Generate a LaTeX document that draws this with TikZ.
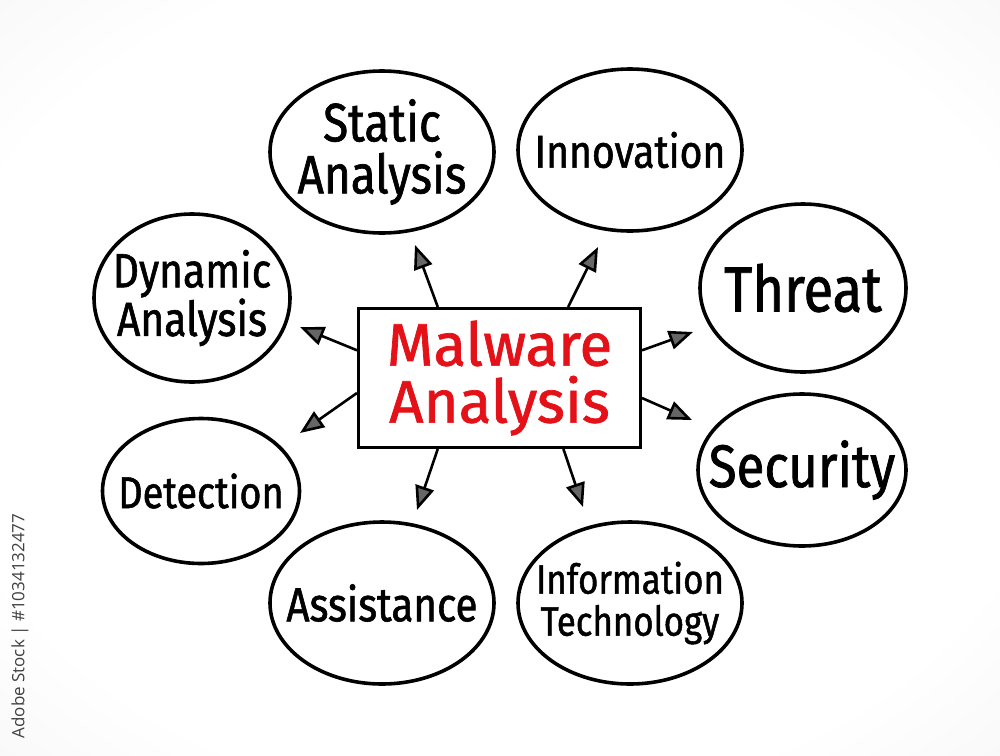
\documentclass[tikz,border=0pt]{standalone}
\usepackage{fontspec}
\usepackage{xcolor}
\usetikzlibrary{arrows.meta}
\usetikzlibrary{shapes.geometric}
\newfontfamily\hand{Fira Sans}[FakeStretch=0.85,FakeBold=1.2]
\newfontfamily\handwide{Fira Sans}[FakeBold=1.2]
\newfontfamily\stockfont{Open Sans}
\definecolor{markerred}{RGB}{228,18,24}
\definecolor{stockgray}{RGB}{64,64,64}
\pgfdeclareradialshading{paperglow}{\pgfpoint{0bp}{0bp}}{color(0bp)=(white); color(28bp)=(white); color(50bp)=(black!7); color(71bp)=(black!13)}

\tikzset{
  bubble/.style={draw, ellipse, line width=3.6pt, inner sep=-40pt, align=center},
  spoke/.style={line width=2.6pt, -{Triangle[length=24pt,width=19pt,fill=black!60]}}
}

\begin{document}
\begin{tikzpicture}[x=1pt,y=-1pt]
        \useasboundingbox (0,0) rectangle (1000,755);
        \shade[shading=paperglow] (0,0) rectangle (1000,755);

        \node[rotate=90, text=stockgray, font=\stockfont\fontsize{17}{17}\selectfont] (stockid) at (20,626) {Adobe Stock | \#1034132477};

        \node[draw, line width=3pt, minimum width=282pt, minimum height=139pt, align=center, text=markerred,
              font=\handwide\fontsize{60}{57}\selectfont] (malware) at (499.5,378) {Malware\\Analysis};

        \node[bubble, minimum width=224pt, minimum height=162pt, font=\hand\fontsize{54}{52}\selectfont] (static) at (382,152) {Static\\Analysis};
        \node[bubble, minimum width=224pt, minimum height=162pt, font=\hand\fontsize{46}{46}\selectfont] (innov) at (630,150) {Innovation};
        \node[bubble, minimum width=206pt, minimum height=168pt, font=\hand\fontsize{64}{64}\selectfont] (threat) at (803,288) {Threat};
        \node[bubble, minimum width=208pt, minimum height=152pt, font=\hand\fontsize{60}{60}\selectfont] (secur) at (802,470) {Security};
        \node[bubble, minimum width=224pt, minimum height=162pt, font=\hand\fontsize{41}{42}\selectfont] (infotech) at (630,603) {Information\\Technology};
        \node[bubble, minimum width=224pt, minimum height=162pt, font=\hand\fontsize{47.5}{47}\selectfont] (assist) at (382,603) {Assistance};
        \node[bubble, minimum width=197pt, minimum height=145pt, font=\hand\fontsize{44.5}{44}\selectfont] (detect) at (201,491) {Detection};
        \node[bubble, minimum width=196pt, minimum height=168pt, font=\hand\fontsize{48}{45}\selectfont] (dynamic) at (192,298) {Dynamic\\Analysis};

        \coordinate (tipstatic) at (415,245);
        \coordinate (tipinnov) at (598,247);
        \coordinate (tipthreat) at (693,332);
        \coordinate (tipsecur) at (692,420);
        \coordinate (tipinfotech) at (583,507);
        \coordinate (tipassist) at (417,510);
        \coordinate (tipdetect) at (300,433);
        \coordinate (tipdynamic) at (300,327);

        \draw[spoke] (malware.131.8) -- (tipstatic);
        \draw[spoke] (malware.46) -- (tipinnov);
        \draw[spoke] (malware.11.9) -- (tipthreat);
        \draw[spoke] (malware.-8) -- (tipsecur);
        \draw[spoke] (malware.-48.6) -- (tipinfotech);
        \draw[spoke] (malware.-131.8) -- (tipassist);
        \draw[spoke] (malware.186) -- (tipdetect);
        \draw[spoke] (malware.169.7) -- (tipdynamic);

    \end{tikzpicture}
\end{document}
